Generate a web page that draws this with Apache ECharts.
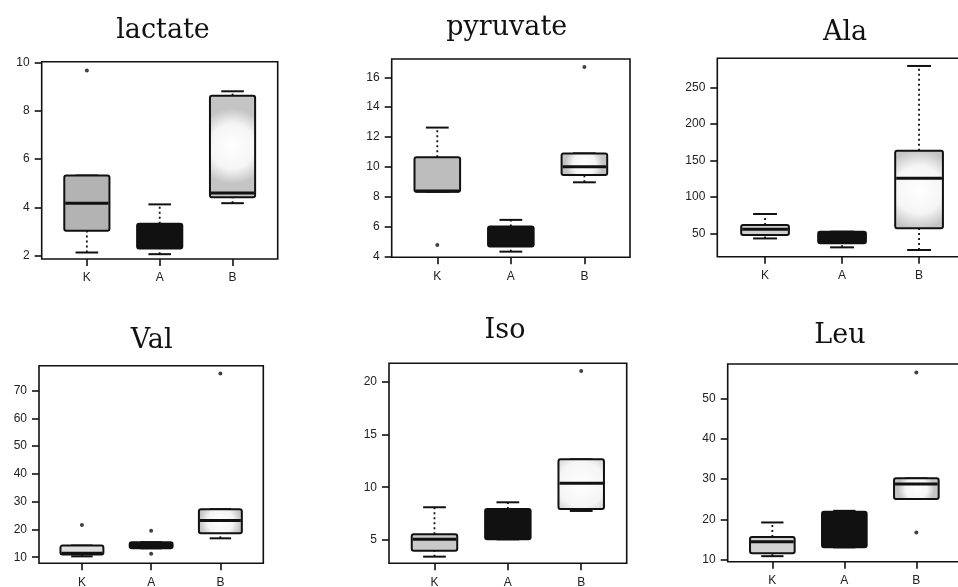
<!DOCTYPE html>
<html>
<head>
<meta charset="utf-8">
<script src="https://cdn.jsdelivr.net/npm/echarts@6/dist/echarts.min.js"></script>
<style>
  html, body { margin: 0; background: #fff; }
  #chart { width: 958px; height: 587px; }
</style>
</head>
<body>
<div id="chart"></div>
<script>
// ── data ──
const groups = ["K", "A", "B"];
const titles = ["lactate", "pyruvate", "Ala", "Val", "Iso", "Leu"];

// per group: [lower whisker, Q1, median, Q3, upper whisker]
const lactateBoxes  = [[2.12, 3.02, 4.17, 5.32, 5.32], [2.05, 2.29, 2.8, 3.32, 4.12], [4.17, 4.42, 4.59, 8.64, 8.82]];
const pyruvateBoxes = [[8.33, 8.33, 8.38, 10.64, 12.63], [4.31, 4.65, 5.3, 5.99, 6.44], [8.96, 9.45, 10.0, 10.9, 10.9]];
const alaBoxes      = [[43, 47.7, 55.5, 61.4, 76.5], [30.8, 36.3, 44, 52.3, 52.3], [27.2, 56.8, 125.3, 163.2, 279.2]];
const valBoxes      = [[10.3, 11.0, 11.4, 14.2, 14.2], [13.2, 13.2, 14.3, 15.4, 15.4], [16.8, 18.6, 23.2, 27.3, 27.3]];
const isoBoxes      = [[3.42, 3.99, 5.06, 5.54, 8.1], [5.06, 5.06, 6.5, 7.94, 8.57], [7.75, 7.94, 10.37, 12.64, 12.64]];
const leuBoxes      = [[10.8, 11.5, 14.4, 15.6, 19.2], [13.0, 13.0, 17.0, 21.9, 22.1], [25.05, 25.05, 28.8, 30.2, 30.2]];

// outliers: [group index, value]
const lactateOut  = [[0, 9.68]];
const pyruvateOut = [[0, 4.76], [2, 16.7]];
const alaOut      = [];
const valOut      = [[0, 21.6], [1, 19.5], [1, 11.2], [2, 76.2]];
const isoOut      = [[2, 21.0]];
const leuOut      = [[2, 56.6], [2, 16.7]];

// y ticks and axis extents
const lactateTicks  = [2, 4, 6, 8, 10];
const pyruvateTicks = [4, 6, 8, 10, 12, 14, 16];
const alaTicks      = [50, 100, 150, 200, 250];
const valTicks      = [10, 20, 30, 40, 50, 60, 70];
const isoTicks      = [5, 10, 15, 20];
const leuTicks      = [10, 20, 30, 40, 50];
const yRanges = [[1.85, 10.05], [3.93, 17.23], [18, 289.7], [7.8, 79], [2.79, 21.74], [9.42, 58.7]];

const allBoxes = [lactateBoxes, pyruvateBoxes, alaBoxes, valBoxes, isoBoxes, leuBoxes];
const allOut   = [lactateOut, pyruvateOut, alaOut, valOut, isoOut, leuOut];
const allTicks = [lactateTicks, pyruvateTicks, alaTicks, valTicks, isoTicks, leuTicks];

// ── layout (px) ──
const panels = [
  { left: 41.7,  top: 61.7,  width: 236,   height: 197.3, tx: 163,   ty: 31 },
  { left: 391.7, top: 59,    width: 238.3, height: 198.3, tx: 506.7, ty: 28 },
  { left: 717.3, top: 58.3,  width: 249.5, height: 198.4, tx: 845,   ty: 33 },
  { left: 39,    top: 365.7, width: 224.3, height: 197.6, tx: 151.7, ty: 341 },
  { left: 389,   top: 363.3, width: 237.7, height: 200,   tx: 505,   ty: 331 },
  { left: 727.7, top: 364,   width: 233.3, height: 197.7, tx: 840,   ty: 336 },
];
const kFills = ["#b3b3b3", "#bdbdbd", "#d0d0d0", "#dedede", "#c9c9c9", "#d2d2d2"];
const BOX_W = 0.62;
const INK = "#111111";

const bFill = () => new echarts.graphic.RadialGradient(0.5, 0.5, 0.8, [
  { offset: 0, color: "#ffffff" }, { offset: 0.6, color: "#f5f5f5" }, { offset: 1, color: "#c4c4c4" },
]);

function boxRenderer(pi) {
  const fills = [kFills[pi], INK, bFill()];
  return function (params, api) {
    const x = api.value(0);
    const [cx, yLo] = api.coord([x, api.value(1)]);
    const yQ1 = api.coord([x, api.value(2)])[1];
    const yMd = api.coord([x, api.value(3)])[1];
    const yQ3 = api.coord([x, api.value(4)])[1];
    const yHi = api.coord([x, api.value(5)])[1];
    const w = api.size([BOX_W, 0])[0];
    const line = (x1, y1, x2, y2, style) => ({ type: "line", shape: { x1, y1, x2, y2 }, style });
    const dash = { stroke: INK, lineWidth: 1.8, lineDash: [2, 3] };
    const solid = { stroke: INK, lineWidth: 2 };
    return {
      type: "group",
      children: [
        line(cx, yQ3, cx, yHi, dash),
        line(cx, yLo, cx, yQ1, dash),
        line(cx - w / 4, yHi, cx + w / 4, yHi, solid),
        line(cx - w / 4, yLo, cx + w / 4, yLo, solid),
        { type: "rect", shape: { x: cx - w / 2, y: yQ3, width: w, height: Math.max(yQ1 - yQ3, 1), r: 2 },
          style: { fill: fills[params.dataIndex], stroke: INK, lineWidth: 2 } },
        line(cx - w / 2 + 1, yMd, cx + w / 2 - 1, yMd, { stroke: INK, lineWidth: 3 }),
      ],
    };
  };
}

const axisFont = { fontFamily: "Liberation Sans", fontSize: 12, color: "#222" };

const option = {
  animation: false,
  backgroundColor: "#fff",
  graphic: panels.map((p, i) => ({
    type: "text", x: p.tx, y: p.ty,
    style: { text: titles[i], font: "27px 'DejaVu Serif'", fill: "#111", align: "center", verticalAlign: "middle" },
  })),
  grid: panels.map((p) => ({
    left: p.left, top: p.top, width: p.width, height: p.height,
    show: true, borderColor: INK, borderWidth: 1.6, backgroundColor: "transparent",
    containLabel: false, outerBoundsMode: "none",
  })),
  xAxis: panels.map((p, i) => ({
    type: "value", gridIndex: i, min: 0.38, max: 3.62,
    axisLine: { show: false }, splitLine: { show: false },
    axisTick: { show: true, customValues: [1, 2, 3], length: 7, lineStyle: { color: INK, width: 1.6 } },
    axisLabel: { ...axisFont, customValues: [1, 2, 3], margin: 13, formatter: (v) => groups[Math.round(v) - 1] },
  })),
  yAxis: panels.map((p, i) => ({
    type: "value", gridIndex: i, min: yRanges[i][0], max: yRanges[i][1],
    axisLine: { show: false }, splitLine: { show: false },
    axisTick: { show: true, customValues: allTicks[i], length: 7, lineStyle: { color: INK, width: 1.6 } },
    axisLabel: { ...axisFont, customValues: allTicks[i], margin: 12 },
  })),
  series: [
    ...allBoxes.map((boxes, i) => ({
      type: "custom", xAxisIndex: i, yAxisIndex: i,
      renderItem: boxRenderer(i),
      encode: { x: 0, y: [1, 2, 3, 4, 5] },
      data: boxes.map((b, g) => [g + 1, ...b]),
    })),
    ...allOut.map((pts, i) => ({
      type: "scatter", xAxisIndex: i, yAxisIndex: i,
      symbolSize: 4, itemStyle: { color: INK },
      data: pts.map(([g, v]) => [g + 1, v]),
    })),
  ],
};

echarts.init(document.getElementById("chart"), null, { renderer: "canvas" }).setOption(option);
</script>
</body>
</html>
